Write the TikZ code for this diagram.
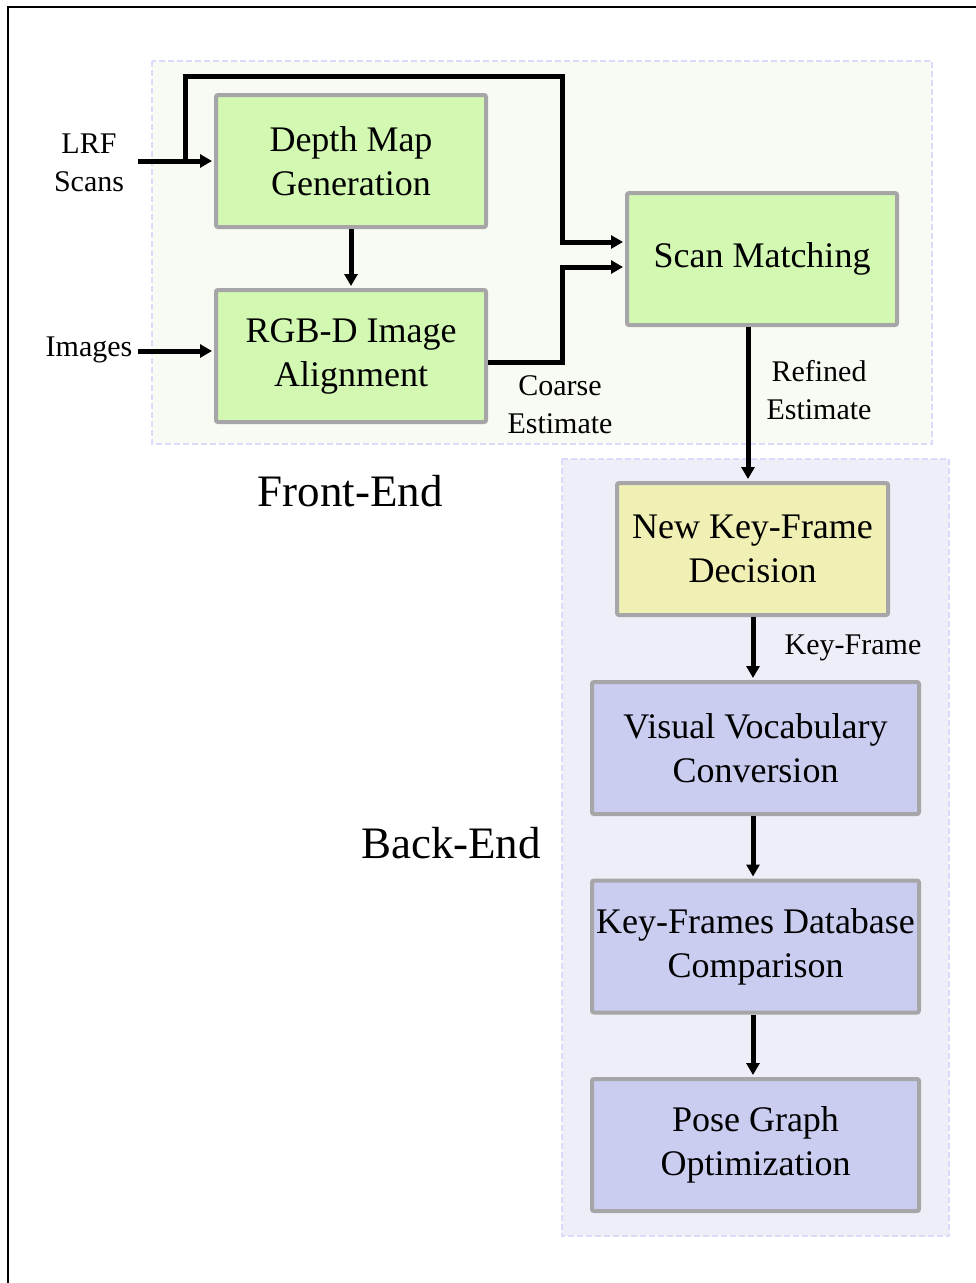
\documentclass[tikz,border=0pt]{standalone}
\usepackage{fontspec}
\setmainfont{Liberation Serif}
\usetikzlibrary{arrows.meta}
\definecolor{febg}{RGB}{248,251,243}
\definecolor{bebg}{RGB}{238,238,248}
\definecolor{dashc}{RGB}{218,218,250}
\definecolor{greenbox}{RGB}{210,248,178}
\definecolor{yellowbox}{RGB}{240,240,180}
\definecolor{bluebox}{RGB}{202,204,240}
\definecolor{boxline}{RGB}{166,166,168}
\tikzset{
  region/.style={fill=#1, draw=dashc, line width=2.5pt, dash pattern=on 6pt off 3pt},
  procbox/.style={draw=boxline, line width=4pt, fill=#1, rounded corners=2pt,
    minimum width=270pt, minimum height=132pt, align=center,
    font=\fontsize{36}{44}\selectfont, inner sep=0pt},
  lbl/.style={align=center, font=\fontsize{30}{38}\selectfont, inner sep=0pt},
  biglbl/.style={font=\fontsize{45}{54}\selectfont, inner sep=0pt},
  arr/.style={line width=5pt, line join=miter, -{Triangle[length=12pt,width=13pt]}},
}
\begin{document}
\begin{tikzpicture}[x=1pt,y=-1pt]
\useasboundingbox (0,0) rectangle (976,1283);
\fill[white] (0,0) rectangle (976,1283);
\draw[line width=2pt] (8,1283) |- (976,7);
% regions
\draw[region=febg] (152,61) rectangle (932,444);
\draw[region=bebg] (562,459) rectangle (949,1236);
% boxes
\node[procbox=greenbox] (dm) at (351,161) {Depth Map\\Generation};
\node[procbox=greenbox] (rgb) at (351,356) {RGB-D Image\\Alignment};
\node[procbox=greenbox] (sm) at (762,259) {Scan Matching};
\node[procbox=yellowbox, minimum width=271pt] (nkf) at (752.5,549) {New Key-Frame\\Decision};
\node[procbox=bluebox, minimum width=327pt] (vv) at (755.5,748) {Visual Vocabulary\\Conversion};
\node[procbox=bluebox, minimum width=327pt] (kfdb) at (755.5,946.5) {Key-Frames Database\\Comparison};
\node[procbox=bluebox, minimum width=327pt] (pgo) at (755.5,1145) {Pose Graph\\Optimization};
% labels
\node[lbl] (lrf) at (89,163) {LRF\\Scans};
\node[lbl] (img) at (89,350) {Images};
\node[lbl] (coarse) at (560,405) {Coarse\\Estimate};
\node[lbl] (refined) at (819,390) {Refined\\Estimate};
\node[lbl] (kflbl) at (853,648) {Key-Frame};
\node[biglbl] (fe) at (350,491) {Front-End};
\node[biglbl] (be) at (451,843) {Back-End};
% coordinates
\coordinate (l0) at (138,161);
\coordinate (b1) at (185,161);
\coordinate (b2) at (562,76);
\coordinate (b3) at (562,242);
\coordinate (c1) at (562,362);
\coordinate (c2) at (562,267);
\coordinate (i0) at (138,351);
\coordinate (s1) at (748,0);
\coordinate (k1) at (753,0);
% connectors
\draw[arr, shorten >=2pt] (l0) -- (dm.west);
\draw[arr, shorten >=2pt] (b1) |- (b2) -- (b3) -- (b3 -| sm.west);
\draw[arr, shorten >=2pt] (c1 -| rgb.east) -- (c1) -- (c2) -- (c2 -| sm.west);
\draw[arr, shorten >=2pt] (i0) -- (i0 -| rgb.west);
\draw[arr, shorten >=2pt] (dm.south) -- (rgb.north);
\draw[arr, shorten >=2pt] (s1 |- sm.south) -- (s1 |- nkf.north);
\draw[arr, shorten >=2pt] (k1 |- nkf.south) -- (k1 |- vv.north);
\draw[arr, shorten >=2pt] (k1 |- vv.south) -- (k1 |- kfdb.north);
\draw[arr, shorten >=2pt] (k1 |- kfdb.south) -- (k1 |- pgo.north);
\end{tikzpicture}
\end{document}
